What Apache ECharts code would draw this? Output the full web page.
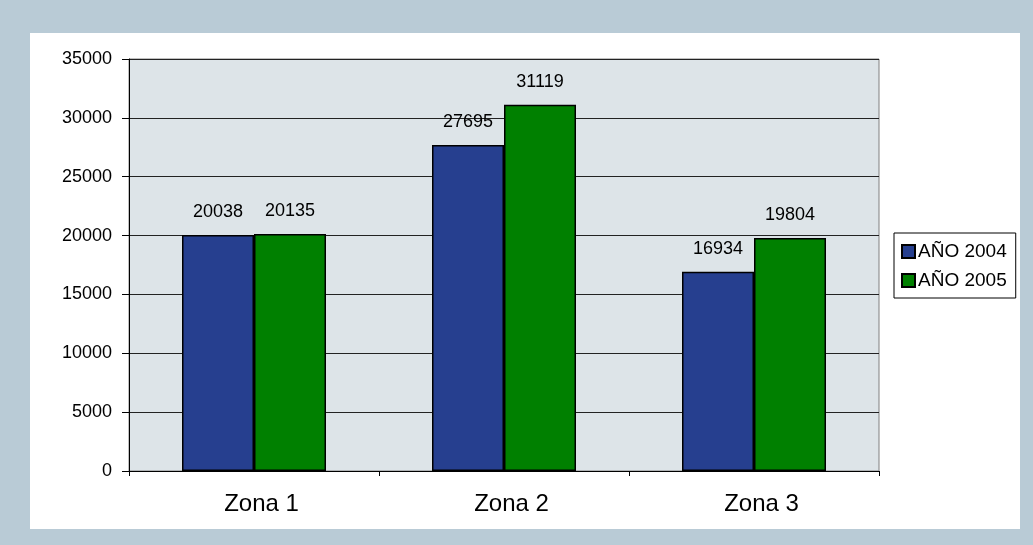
<!DOCTYPE html>
<html>
<head>
<meta charset="utf-8">
<script src="https://cdn.jsdelivr.net/npm/echarts@6/dist/echarts.min.js"></script>
<style>
  html, body { margin: 0; padding: 0; background: #b9cbd6; }
  #chart { width: 1033px; height: 545px; }
</style>
</head>
<body>
<div id="chart"></div>
<script>
// datos
const zonas = ['Zona 1', 'Zona 2', 'Zona 3']
const ano2004 = [20038, 27695, 16934]
const ano2005 = [20135, 31119, 19804]
const yTicks = [0, 5000, 10000, 15000, 20000, 25000, 30000, 35000]

const chart = echarts.init(document.getElementById('chart'))
const font = 'Liberation Sans, Arial, sans-serif'

const barLabel = {
  show: true,
  position: 'top',
  distance: 14,
  color: '#000',
  fontSize: 18,
  fontFamily: font,
}

const option = {
  backgroundColor: '#b9cbd6',
  animation: false,
  graphic: [
    {
      type: 'rect',
      z: -10,
      shape: { x: 30, y: 33, width: 990, height: 496 },
      style: { fill: '#ffffff' },
    },
  ],
  grid: {
    left: 129,
    top: 59,
    right: 154,
    bottom: 74,
    show: true,
    backgroundColor: '#dde4e8',
    borderColor: '#808080',
    borderWidth: 1,
  },
  legend: {
    orient: 'vertical',
    left: 894,
    top: 233,
    padding: [9, 9, 8, 7],
    itemGap: 10,
    itemWidth: 13,
    itemHeight: 13,
    icon: 'rect',
    borderColor: '#000',
    borderWidth: 1,
    backgroundColor: '#fff',
    textStyle: { color: '#000', fontSize: 19, fontFamily: font, padding: [0, 0, 0, -2] },
    data: ['AÑO 2004', 'AÑO 2005'],
  },
  xAxis: {
    type: 'category',
    data: zonas,
    axisLine: { lineStyle: { color: '#000', width: 1 } },
    axisTick: { show: true, length: 5, lineStyle: { color: '#000' } },
    axisLabel: {
      color: '#000',
      fontSize: 24,
      fontFamily: font,
      margin: 21,
      padding: [0, 0, 0, 15],
    },
  },
  yAxis: {
    type: 'value',
    min: yTicks[0],
    max: yTicks[yTicks.length - 1],
    interval: yTicks[1] - yTicks[0],
    axisLine: { show: true, lineStyle: { color: '#000', width: 1 } },
    axisTick: { show: true, length: 7, lineStyle: { color: '#000' } },
    axisLabel: {
      color: '#000',
      fontSize: 18,
      fontFamily: font,
      margin: 17,
      formatter: (v) => String(v),
    },
    splitLine: { show: true, lineStyle: { color: '#222', width: 1 } },
  },
  series: [
    {
      name: 'AÑO 2004',
      type: 'bar',
      data: ano2004,
      barWidth: 72,
      barGap: '0%',
      itemStyle: { color: '#263f8f', borderColor: '#000', borderWidth: 1.5 },
      label: barLabel,
    },
    {
      name: 'AÑO 2005',
      type: 'bar',
      data: ano2005,
      barWidth: 72,
      barGap: '0%',
      itemStyle: { color: '#008000', borderColor: '#000', borderWidth: 1.5 },
      label: barLabel,
    },
  ],
}

chart.setOption(option)
</script>
</body>
</html>
